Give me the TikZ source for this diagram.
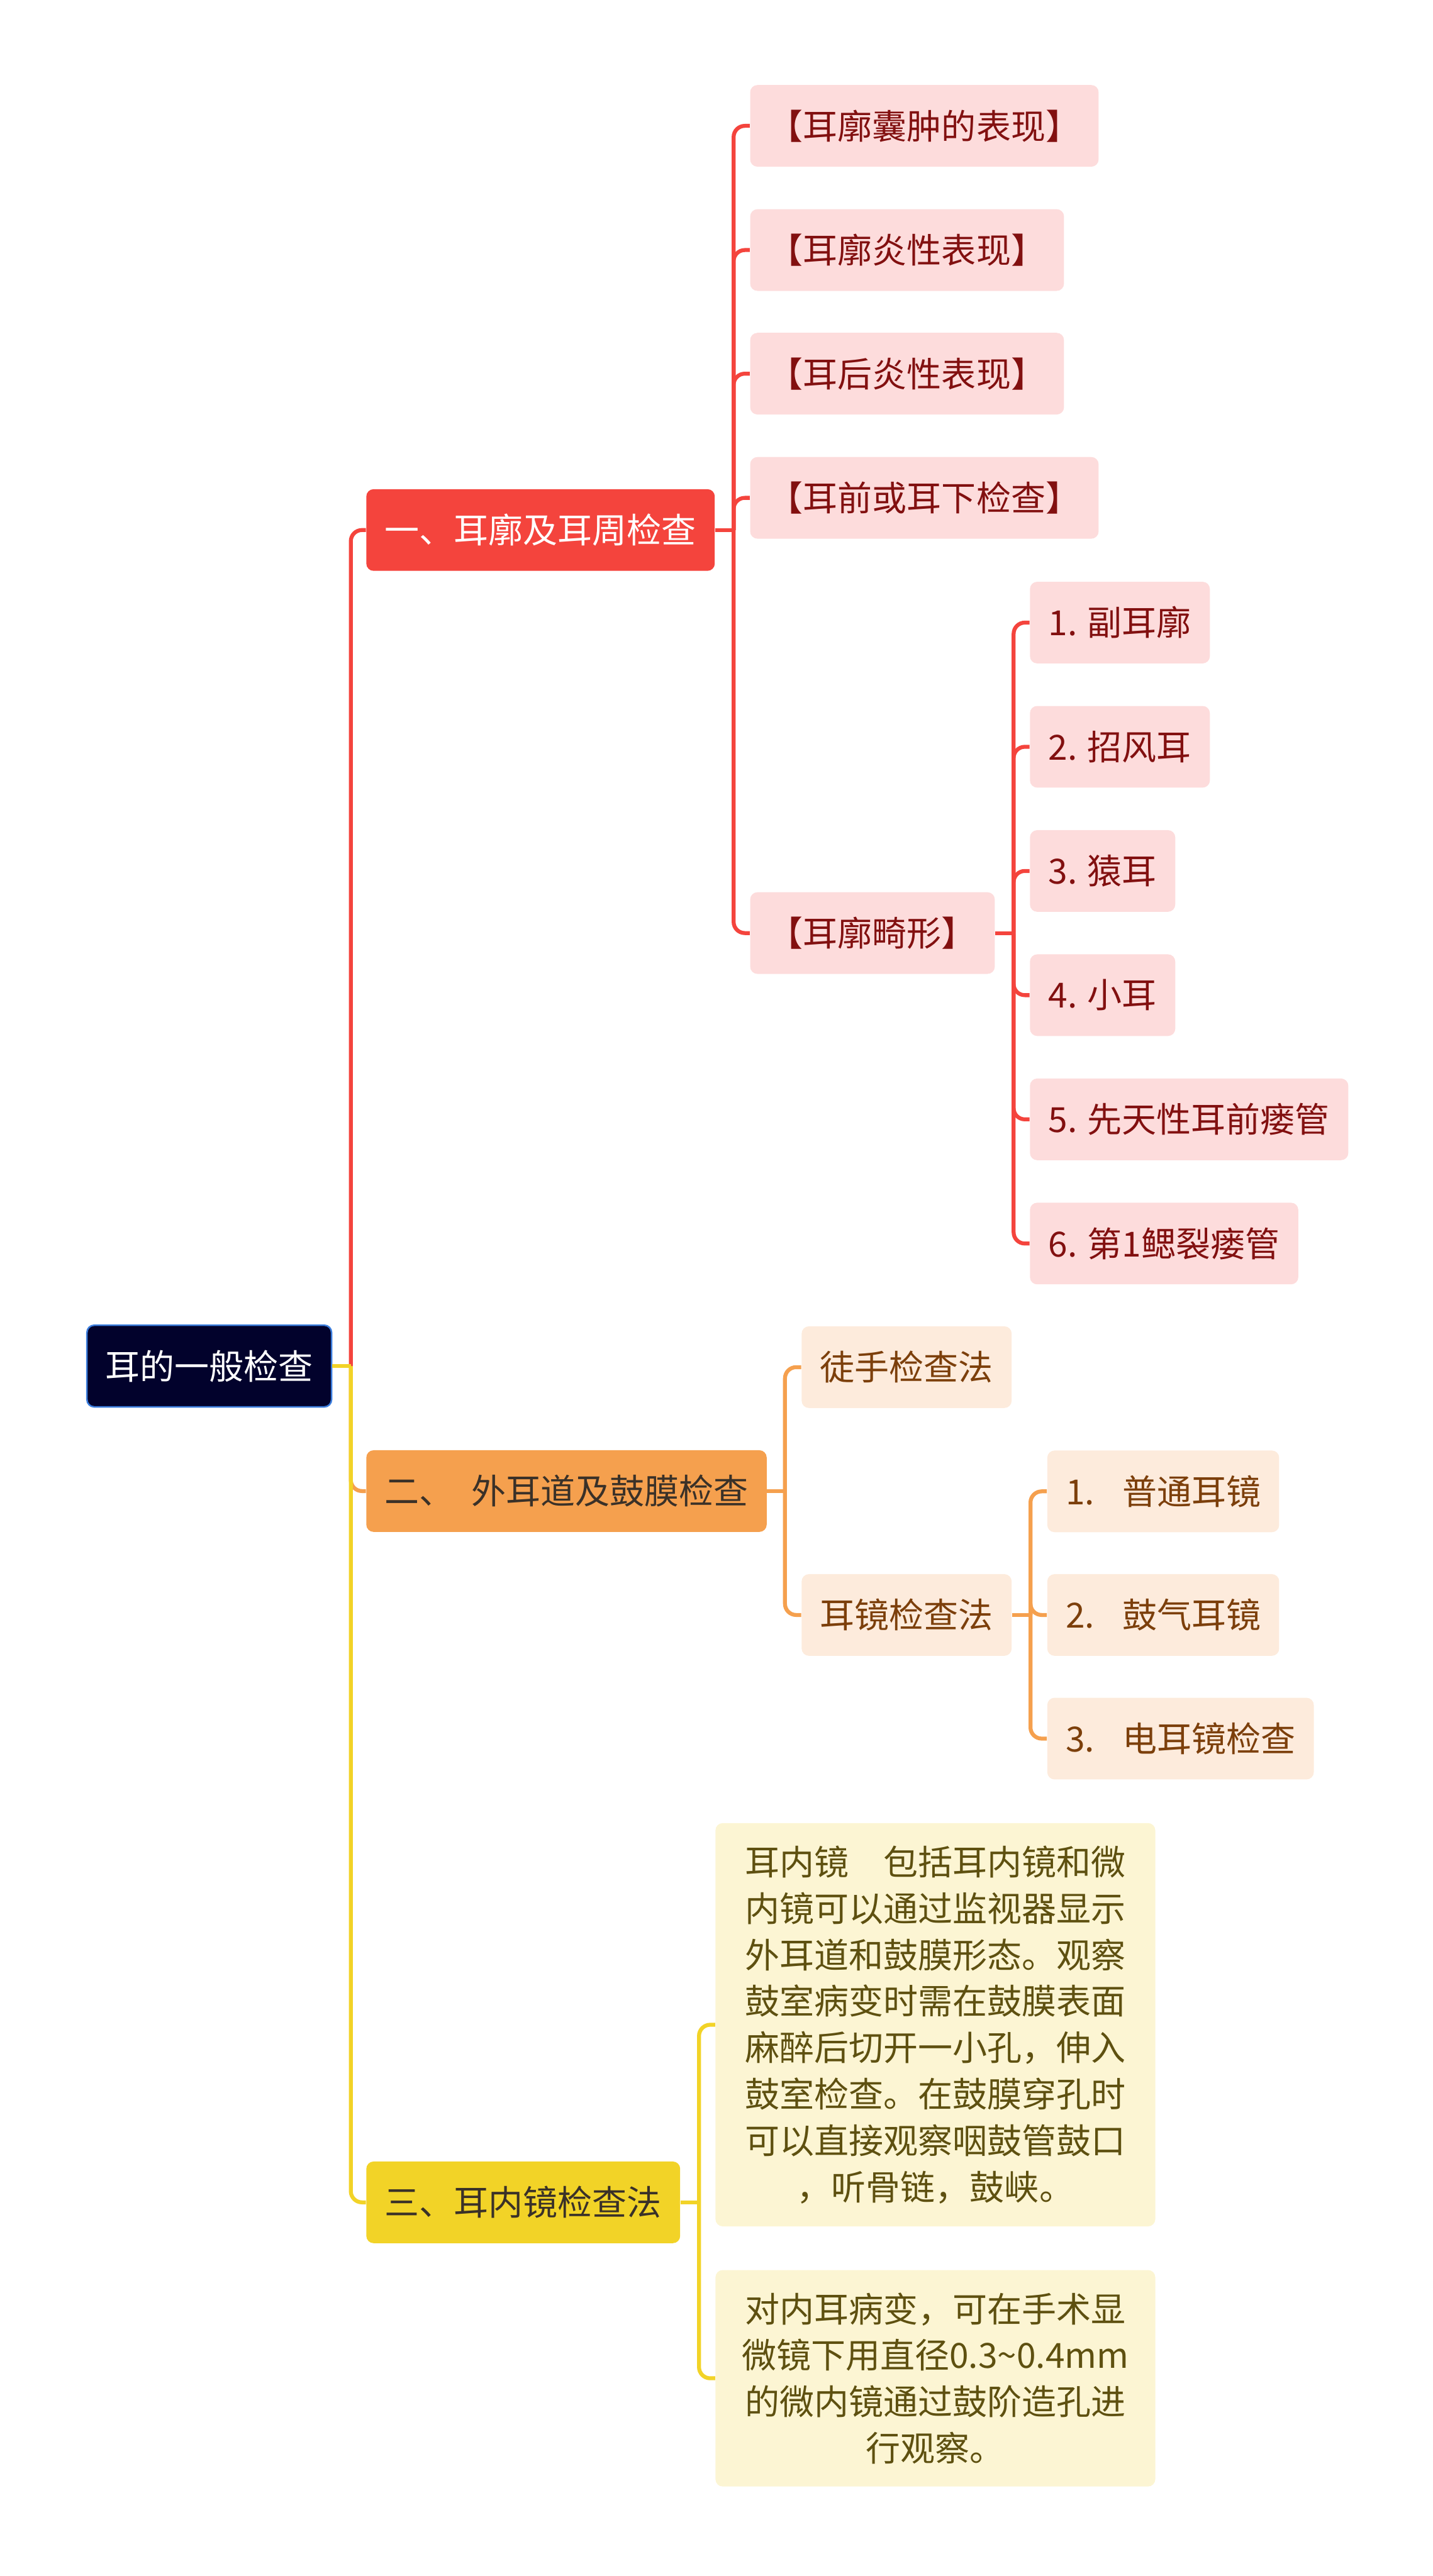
\documentclass[tikz,border=0pt]{standalone}
\usepackage{fontspec}
\setmainfont{Noto Sans CJK SC}
\usepackage{xcolor}
\usetikzlibrary{positioning}
\definecolor{cRoot}  {HTML}{02022C}
\definecolor{cRootLn}{HTML}{3B7DDD}
\definecolor{cRed}   {HTML}{F4443D}
\definecolor{cRedLt} {HTML}{FDDCDC}
\definecolor{cRedTx} {HTML}{821010}
\definecolor{cOrg}   {HTML}{F5A04E}
\definecolor{cOrgLt} {HTML}{FDEBDC}
\definecolor{cOrgTx} {HTML}{7C3F0B}
\definecolor{cYel}   {HTML}{F2D327}
\definecolor{cYelLt} {HTML}{FCF5D3}
\definecolor{cYelTx} {HTML}{5E5010}
\definecolor{cDark}  {HTML}{3A3128}
\tikzset{
  mbox/.style={rounded corners=1.3mm,align=center,inner xsep=3.3mm,inner ysep=0pt,
               minimum height=1.46cm,anchor=west,
               font=\fontsize{17.6pt}{23.6pt}\selectfont},
  mroot/.style={mbox,fill=cRoot,draw=cRootLn,line width=0.8pt,text=white},
  sred/.style ={mbox,fill=cRed,text=white},
  sorg/.style ={mbox,fill=cOrg,text=cDark},
  syel/.style ={mbox,fill=cYel,text=cDark},
  lred/.style ={mbox,fill=cRedLt,text=cRedTx},
  lorg/.style ={mbox,fill=cOrgLt,text=cOrgTx},
  lyel/.style ={mbox,fill=cYelLt,text=cYelTx,minimum width=7.86cm,inner xsep=0pt},
  link/.style ={line width=2pt,rounded corners=2mm},
}
\begin{document}
\begin{tikzpicture}
  \useasboundingbox (0,0) rectangle (25.6,-46.05);
  % root and sections
  \node[mroot] (root) at (1.54,-24.42) {耳的一般检查};
  \node[sred] (sA) at (6.54,-9.475) {一、耳廓及耳周检查};
  \node[sorg] (sB) at (6.54,-26.655) {二、\hspace{0.5em}外耳道及鼓膜检查};
  \node[syel] (sC) at (6.54,-39.37) {三、耳内镜检查法};
  % section one
  \node[lred] (a1) at (13.40,-2.25) {【耳廓囊肿的表现】};
  \node[lred] (a2) at (13.40,-4.47) {【耳廓炎性表现】};
  \node[lred] (a3) at (13.40,-6.68) {【耳后炎性表现】};
  \node[lred] (a4) at (13.40,-8.90) {【耳前或耳下检查】};
  \node[lred] (a5) at (13.40,-16.68) {【耳廓畸形】};
  \node[lred] (e1) at (18.40,-11.13) {1. 副耳廓};
  \node[lred] (e2) at (18.40,-13.35) {2. 招风耳};
  \node[lred] (e3) at (18.40,-15.57) {3. 猿耳};
  \node[lred] (e4) at (18.40,-17.79) {4. 小耳};
  \node[lred] (e5) at (18.40,-20.01) {5. 先天性耳前瘘管};
  \node[lred] (e6) at (18.40,-22.23) {6. 第1鳃裂瘘管};
  % section two
  \node[lorg] (b1) at (14.32,-24.44) {徒手检查法};
  \node[lorg] (b2) at (14.32,-28.87) {耳镜检查法};
  \node[lorg] (o1) at (18.71,-26.66) {1.\hspace{0.8em}普通耳镜};
  \node[lorg] (o2) at (18.71,-28.87) {2.\hspace{0.8em}鼓气耳镜};
  \node[lorg] (o3) at (18.71,-31.08) {3.\hspace{0.8em}电耳镜检查};
  % section three
  \node[lyel,minimum height=7.21cm] (c1) at (12.78,-36.195)
       {耳内镜\hspace{1em}包括耳内镜和微\\内镜可以通过监视器显示\\外耳道和鼓膜形态。观察\\
        鼓室病变时需在鼓膜表面\\麻醉后切开一小孔，伸入\\鼓室检查。在鼓膜穿孔时\\
        可以直接观察咽鼓管鼓口\\，听骨链，鼓峡。};
  \node[lyel,minimum height=3.87cm] (c2) at (12.78,-42.515)
       {对内耳病变，可在手术显\\微镜下用直径0.3\textasciitilde0.4mm\\的微内镜通过鼓阶造孔进\\行观察。};
  % junctions
  \coordinate (j0) at ([xshift=3.3mm]root.east);
  \coordinate (jA) at ([xshift=3.3mm]sA.east);
  \coordinate (jE) at ([xshift=3.3mm]a5.east);
  \coordinate (jB) at ([xshift=3.2mm]sB.east);
  \coordinate (jO) at ([xshift=3.3mm]b2.east);
  \coordinate (jC) at ([xshift=3.3mm]sC.east);
  % connectors
  \draw[link,cOrg] (j0) |- (sB.west);
  \draw[link,cYel] (j0) |- (sC.west);
  \draw[link,cRed] (j0) |- (sA.west);
  \draw[link,cYel] (root.east) -- (j0);
  \draw[link,cRed] (sA.east) -- (jA);
  \foreach \n in {a1,a2,a3,a4,a5} \draw[link,cRed] (jA) |- (\n.west);
  \draw[link,cRed] (a5.east) -- (jE);
  \foreach \n in {e1,e2,e3,e4,e5,e6} \draw[link,cRed] (jE) |- (\n.west);
  \draw[link,cOrg] (sB.east) -- (jB);
  \foreach \n in {b1,b2} \draw[link,cOrg] (jB) |- (\n.west);
  \draw[link,cOrg] (b2.east) -- (jO);
  \foreach \n in {o1,o2,o3} \draw[link,cOrg] (jO) |- (\n.west);
  \draw[link,cYel] (sC.east) -- (jC);
  \foreach \n in {c1,c2} \draw[link,cYel] (jC) |- (\n.west);
\end{tikzpicture}
\end{document}
